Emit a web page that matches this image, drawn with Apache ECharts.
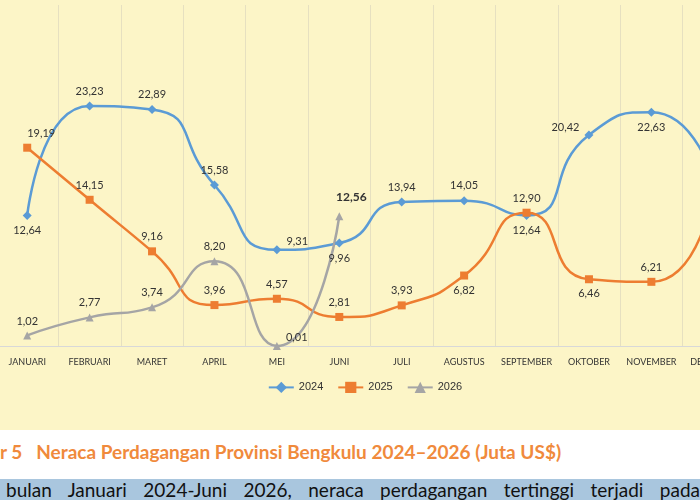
<!DOCTYPE html>
<html>
<head>
<meta charset="UTF-8">
<script src="https://cdn.jsdelivr.net/npm/echarts@6/dist/echarts.min.js"></script>
<style>
body{margin:0;width:700px;height:500px;overflow:hidden;position:relative;background:#fff;font-family:Lato,"Open Sans",sans-serif}
#bg{position:absolute;left:0;top:0;width:700px;height:430px;background:#fcf5c7}
#main{position:absolute;left:-35px;top:0;width:800px;height:430px}
#cap{position:absolute;left:0;top:440px;font-size:19px;font-weight:bold;color:#f08a3c;white-space:nowrap}
#band{position:absolute;left:0;top:479px;width:694px;padding-left:6px;height:22px;background:#a9c6de;font-size:19px;color:#111;line-height:22px;text-align:justify;text-align-last:justify;overflow:hidden}
</style>
</head>
<body>
<div id="bg"></div>
<div id="main"></div>
<div id="cap">r 5&nbsp;&nbsp;&nbsp;Neraca Perdagangan Provinsi Bengkulu 2024–2026 (Juta US$)</div>
<div id="band">bulan Januari 2024-Juni 2026, neraca perdagangan tertinggi terjadi pada</div>
<script>
var months = ['JANUARI','FEBRUARI','MARET','APRIL','MEI','JUNI','JULI','AGUSTUS','SEPTEMBER','OKTOBER','NOVEMBER','DESEMBER'];
var data2024 = [12.64, 23.23, 22.89, 15.58, 9.31, 9.96, 13.94, 14.05, 12.64, 20.42, 22.63, 16.0];
var data2025 = [19.19, 14.15, 9.16, 3.96, 4.57, 2.81, 3.93, 6.82, 12.90, 6.46, 6.21, 15.0];
var data2026 = [1.02, 2.77, 3.74, 8.20, 0.01, 12.56];
var pos2024 = ['bottom','top','top','top','right','bottom','top','top','bottom','left','bottom','top'];
var pos2025 = ['top','top','top','top','top','top','top','bottom','top','bottom','top','top'];
var pos2026 = ['top','top','top','top','right','top'];

function fmt(p){ return p.value.toFixed(2).replace('.', ','); }
function pts(vals, pos){
    return vals.map(function(v, i){
        var lab = {position: pos[i]};
        if (pos[i] === 'left' || pos[i] === 'right') lab.offset = [0, -8];
        return {value: v, label: lab};
    });
}
var d26 = pts(data2026, pos2026);
d26[5].label = {position: 'top', offset: [12, -4], fontWeight: 'bold', fontSize: 12};
var d24 = pts(data2024, pos2024);
d24[11].label = {show: false};
var d25 = pts(data2025, pos2025);
d25[0].label = {position: 'top', offset: [14, 0]};
d25[11].label = {show: false};

var myChart = echarts.init(document.getElementById('main'));
var lbl = {show: true, formatter: fmt, color: '#333', fontSize: 11, fontFamily: 'Lato'};
option = {
    animation: false,
    grid: {left: 31, width: 749, top: 5, bottom: 84},
    xAxis: {
        type: 'category', data: months,
        axisLine: {lineStyle: {color: '#d8d8d8'}},
        axisTick: {show: false},
        axisLabel: {color: '#333', fontSize: 9, fontFamily: 'Lato', margin: 12, interval: 0},
        splitLine: {show: true, interval: 0, lineStyle: {color: '#e6e0c0'}}
    },
    yAxis: {type: 'value', min: 0, max: 33, show: false},
    legend: {
        bottom: 32, left: 'center', itemGap: 14,
        textStyle: {color: '#333', fontSize: 11},
        data: ['2024','2025','2026']
    },
    series: [
        {name: '2024', type: 'line', smooth: 0.6, data: d24, symbol: 'diamond', symbolSize: 9,
         itemStyle: {color: '#5b9bd5'}, lineStyle: {width: 2.5}, label: lbl},
        {name: '2025', type: 'line', smooth: 0.6, data: d25, symbol: 'rect', symbolSize: 8,
         itemStyle: {color: '#ed7d31'}, lineStyle: {width: 2.5}, label: lbl},
        {name: '2026', type: 'line', smooth: 0.6, data: d26, symbol: 'triangle', symbolSize: 8,
         itemStyle: {color: '#a5a5a5'}, lineStyle: {width: 2.5}, label: lbl}
    ]
};
myChart.setOption(option);
</script>
</body>
</html>
